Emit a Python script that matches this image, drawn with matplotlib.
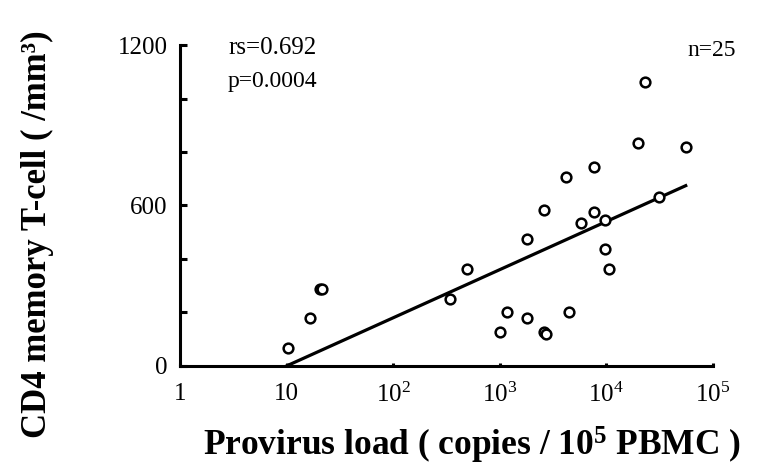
import matplotlib
matplotlib.use("Agg")
import matplotlib.pyplot as plt
import numpy as np

plt.rcParams['font.family'] = ['Liberation Serif', 'DejaVu Serif']
plt.rcParams['mathtext.fontset'] = 'custom'
plt.rcParams['mathtext.rm'] = 'Liberation Serif'
plt.rcParams['mathtext.bf'] = 'Liberation Serif:bold'
plt.rcParams['mathtext.it'] = 'Liberation Serif:italic'

# Provirus load (copies / 10^5 PBMC) and CD4 memory T-cell count
provirus = [10.2, 16.5, 20.6, 21.6, 343, 490, 1015, 1170, 1810, 1810,
            2600, 2600, 2720, 4450, 4170, 5800, 7700, 7700, 9800, 9800,
            10500, 19900, 23000, 31100, 55600]
cd4_memory = [67, 179, 288, 288, 250, 361, 128, 202, 179, 474,
              582, 128, 120, 202, 707, 534, 574, 745, 546, 436,
              363, 832, 1063, 633, 820]

# regression line: y = intercept + slope * log10(x)
fit_range = [10, 55600]
fit_intercept = -180
fit_slope = 180

x_ticks = [1, 10, 100, 1000, 10000, 100000]
x_labels = ['1', '10', r'$\mathregular{10^2}$', r'$\mathregular{10^3}$',
            r'$\mathregular{10^4}$', r'$\mathregular{10^5}$']
y_ticks = [0, 200, 400, 600, 800, 1000, 1200]
y_labels = ['0', '', '', '600', '', '', '1200']

fig = plt.figure(figsize=(7.58, 4.74), dpi=100)
ax = fig.add_axes([0.2375, 0.228, 0.703, 0.677])

ax.plot(provirus, cd4_memory, 'o', mfc='white', mec='black', ms=7, mew=1.8,
        linestyle='none', zorder=3)
lx = np.array(fit_range, dtype=float)
ax.plot(lx, fit_intercept + fit_slope * np.log10(lx), color='black', lw=2.3, zorder=2)

ax.set_xscale('log')
ax.set_xlim(1, 1e5)
ax.set_ylim(0, 1200)
ax.set_xticks(x_ticks)
ax.set_xticklabels(x_labels)
ax.xaxis.set_minor_locator(matplotlib.ticker.NullLocator())
ax.set_yticks(y_ticks)
ax.set_yticklabels(y_labels)

for s in ['top', 'right']:
    ax.spines[s].set_visible(False)
for s in ['left', 'bottom']:
    ax.spines[s].set_linewidth(2.2)

ax.tick_params(axis='y', direction='in', length=5, width=2.2, labelsize=18, pad=9)
ax.tick_params(axis='x', direction='in', length=2, width=2.2, labelsize=18, pad=12)

fig.text(228 / 758, 1 - 48 / 474, 'rs=0.692', fontsize=18, va='center', ha='left')
fig.text(228 / 758, 1 - 82 / 474, 'p=0.0004', fontsize=17, va='center', ha='left')
fig.text(736 / 758, 1 - 50 / 474, 'n=25', fontsize=17, va='center', ha='right')

fig.text(0.049, 0.506, 'CD4 memory T-cell ( /mm³)', rotation=90, fontsize=25,
         fontweight='bold', ha='center', va='center')
fig.text(0.623, 0.061, r'Provirus load ( copies / $\mathbf{10^5}$ PBMC )', fontsize=25.5,
         fontweight='bold', ha='center', va='center')

fig.savefig('out.png', dpi=100)
